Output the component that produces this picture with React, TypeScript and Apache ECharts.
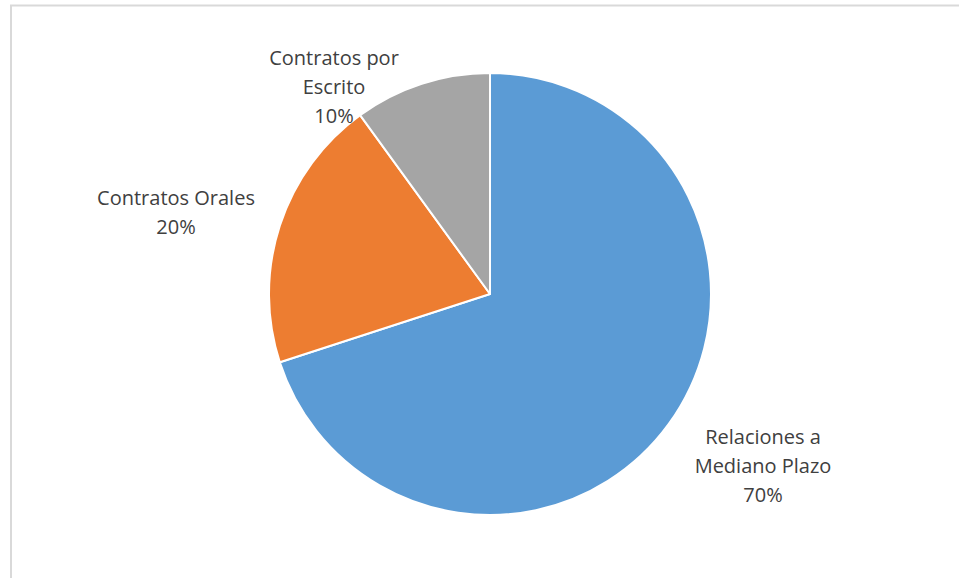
import React, { useEffect, useRef } from "react";
import * as echarts from "echarts";

const categories = ["Relaciones a\nMediano Plazo", "Contratos Orales", "Contratos por\nEscrito"];
const values = [70, 20, 10];
const colors = ["#5B9BD5", "#ED7D31", "#A5A5A5"];
const labelPos = [
  [763, 465],
  [176, 212],
  [334, 86],
];

export default function App() {
  const ref = useRef<HTMLDivElement>(null);
  useEffect(() => {
    if (!ref.current) return;
    const chart = echarts.init(ref.current, null, { renderer: "svg" });
    chart.setOption({
      animation: false,
      backgroundColor: "#ffffff",
      graphic: [
        {
          type: "rect",
          shape: { x: 11, y: 5.5, width: 1000, height: 700 },
          style: { fill: "none", stroke: "#D9D9D9", lineWidth: 2 },
          silent: true,
        },
      ],
      series: [
        {
          type: "pie",
          center: [490, 294],
          radius: 221,
          startAngle: 90,
          clockwise: true,
          data: categories.map((c, i) => ({
            name: c,
            value: values[i],
            itemStyle: { color: colors[i] },
          })),
          itemStyle: { borderColor: "#ffffff", borderWidth: 2 },
          label: {
            show: true,
            position: "outside",
            formatter: "{b}\n{d}%",
            fontFamily: "Open Sans",
            fontSize: 20,
            lineHeight: 29,
            color: "#404040",
            align: "center",
          },
          labelLine: { show: false },
          labelLayout: (p: any) => ({
            x: labelPos[p.dataIndex][0],
            y: labelPos[p.dataIndex][1],
            align: "center",
            verticalAlign: "middle",
          }),
          emphasis: { disabled: true },
        },
      ],
    });
    return () => chart.dispose();
  }, []);
  return (
    <div
      ref={ref}
      style={{ position: "absolute", left: 0, top: 0, width: 959, height: 578 }}
    />
  );
}
